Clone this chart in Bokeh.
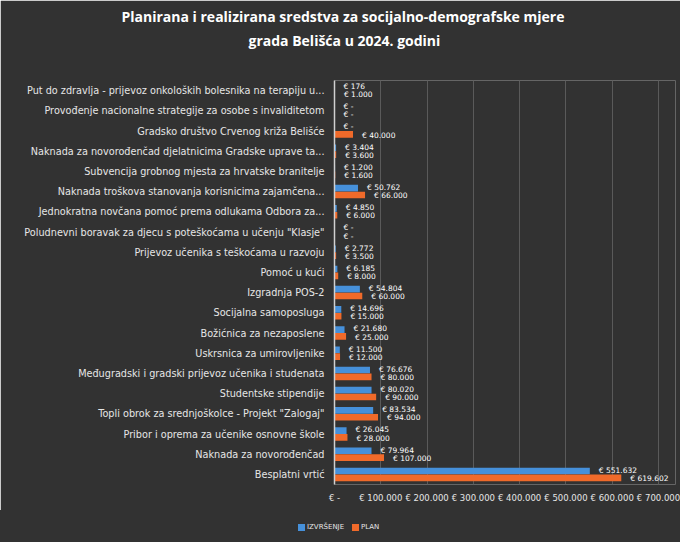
from bokeh.plotting import figure
from bokeh.layouts import column
from bokeh.models import (ColumnDataSource, FactorRange, Range1d, FixedTicker,
                          CustomJSTickFormatter, Title, Div)
from bokeh.transform import dodge
from bokeh.core.properties import value
from bokeh.embed import file_html
from bokeh.resources import INLINE

categories = [
    "Put do zdravlja - prijevoz onkoloških bolesnika na terapiju u...",
    "Provođenje nacionalne strategije za osobe s invaliditetom",
    "Gradsko društvo Crvenog križa Belišće",
    "Naknada za novorođenčad djelatnicima Gradske uprave ta...",
    "Subvencija grobnog mjesta za hrvatske branitelje",
    "Naknada troškova stanovanja korisnicima zajamčena...",
    "Jednokratna novčana pomoć prema odlukama Odbora za...",
    "Poludnevni boravak za djecu s poteškoćama u učenju \"Klasje\"",
    "Prijevoz učenika s teškoćama u razvoju",
    "Pomoć u kući",
    "Izgradnja POS-2",
    "Socijalna samoposluga",
    "Božićnica za nezaposlene",
    "Uskrsnica za umirovljenike",
    "Međugradski i gradski prijevoz učenika i studenata",
    "Studentske stipendije",
    "Topli obrok za srednjoškolce - Projekt \"Zalogaj\"",
    "Pribor i oprema za učenike osnovne škole",
    "Naknada za novorođenčad",
    "Besplatni vrtić",
]
izvrsenje = [176, 0, 0, 3404, 1200, 50762, 4850, 0, 2772, 6185,
             54804, 14696, 21680, 11500, 76676, 80020, 83534, 26045, 79964, 551632]
plan = [1000, 0, 40000, 3600, 1600, 66000, 6000, 0, 3500, 8000,
        60000, 15000, 25000, 12000, 80000, 90000, 94000, 28000, 107000, 619602]
x_ticks = [0, 100000, 200000, 300000, 400000, 500000, 600000, 700000]
series_names = ["IZVRŠENJE", "PLAN"]
title_lines = ["Planirana i realizirana sredstva za socijalno-demografske mjere",
               "grada Belišća u 2024. godini"]

BLUE = "#4690DA"
ORANGE = "#F06A2A"
BG = "#323232"
TXT = "#e6e6e6"
FONT = "DejaVu Sans"

AXIS_W = 324                      # pixels from 0 to 700.000
FRAME_W, FRAME_H = 341, 404
TOP, LEFT, RIGHT, BOTTOM = 80, 334, 5, 26
TOTAL_W = LEFT + FRAME_W + RIGHT
X_END = 700000 * FRAME_W / AXIS_W


def fmt(v):
    if v == 0:
        return "€ -"
    return "€ " + f"{v:,}".replace(",", ".")


src = ColumnDataSource(dict(
    cat=categories,
    izv=izvrsenje,
    plan=plan,
    izv_lbl=[fmt(v) for v in izvrsenje],
    plan_lbl=[fmt(v) for v in plan],
))

p = figure(frame_width=FRAME_W, frame_height=FRAME_H, output_backend="svg",
           toolbar_location=None,
           y_range=FactorRange(factors=list(reversed(categories)), range_padding=0.0),
           x_range=Range1d(0, X_END),
           min_border_left=LEFT, min_border_right=RIGHT, min_border_top=TOP,
           min_border_bottom=BOTTOM)

p.background_fill_color = BG
p.border_fill_color = BG
p.outline_line_color = None

# spacer (closest to plot), then line 2, then line 1 (p.title, outermost)
spacer = Title(text=" ", standoff=8, text_font="Open Sans", text_font_size="14px",
               text_color=BG)
p.add_layout(spacer, "above")
t2 = Title(text=title_lines[1], align="left", offset=-86, standoff=4,
           text_color="white", text_font="Open Sans", text_font_size="14px",
           text_font_style="bold")
p.add_layout(t2, "above")

p.title.text = title_lines[0]
p.title.align = "left"
p.title.offset = -213
p.title.text_color = "white"
p.title.text_font = "Open Sans"
p.title.text_font_size = "14px"
p.title.text_font_style = "bold"
p.title.standoff = 2

p.hbar(y=dodge("cat", 0.17, range=p.y_range), right="izv", height=0.33,
       source=src, fill_color=BLUE, line_color=None)
p.hbar(y=dodge("cat", -0.17, range=p.y_range), right="plan", height=0.33,
       source=src, fill_color=ORANGE, line_color=None)

p.text(x="izv", y=dodge("cat", 0.2, range=p.y_range), text="izv_lbl", source=src,
       x_offset=9, text_font_size="7.5px", text_color="white",
       text_baseline="middle", text_font=value(FONT))
p.text(x="plan", y=dodge("cat", -0.2, range=p.y_range), text="plan_lbl", source=src,
       x_offset=9, text_font_size="7.5px", text_color="white",
       text_baseline="middle", text_font=value(FONT))

# grid
p.ygrid.grid_line_color = None
p.xgrid.grid_line_color = "#5a5a5a"
p.xgrid.grid_line_width = 1

# x axis
p.xaxis.ticker = FixedTicker(ticks=x_ticks)
p.xaxis.formatter = CustomJSTickFormatter(code="""
    if (tick == 0) { return "€ -"; }
    return "€ " + Math.round(tick).toString().replace(/\\B(?=(\\d{3})+(?!\\d))/g, ".");
""")
p.xaxis.axis_line_color = None
p.xaxis.major_tick_line_color = None
p.xaxis.minor_tick_line_color = None
p.xaxis.major_tick_out = 0
p.xaxis.major_tick_in = 0
p.xaxis.major_label_text_color = TXT
p.xaxis.major_label_text_font_size = "8.5px"
p.xaxis.major_label_text_font = FONT
p.xaxis.major_label_standoff = 8

# y axis
p.yaxis.axis_line_color = "#d0d0d0"
p.yaxis.axis_line_width = 1.5
p.yaxis.major_tick_line_color = None
p.yaxis.minor_tick_line_color = None
p.yaxis.major_label_text_color = TXT
p.yaxis.major_label_text_font_size = "9.7px"
p.yaxis.major_label_text_font = FONT
p.yaxis.major_label_standoff = 4

# legend strip below the chart (HTML, real text)
LEG_H = 32
sq = "position:absolute;top:14px;width:7px;height:7px;"
lab = ("position:absolute;top:13px;font-family:'DejaVu Sans';font-size:7px;"
       "line-height:9px;color:%s;white-space:nowrap;" % TXT)
legend_html = (
    f'<div style="position:relative;width:{TOTAL_W}px;height:{LEG_H}px;background:{BG};">'
    f'<span style="{sq}left:298px;background:{BLUE};"></span>'
    f'<span style="{lab}left:307px;">{series_names[0]}</span>'
    f'<span style="{sq}left:352px;background:{ORANGE};"></span>'
    f'<span style="{lab}left:361px;">{series_names[1]}</span>'
    '</div>'
)
leg = Div(text=legend_html, width=TOTAL_W, height=LEG_H, margin=0,
          styles={"background-color": BG})

layout = column(p, leg, spacing=0)
open("out.html", "w").write(file_html(layout, INLINE))
